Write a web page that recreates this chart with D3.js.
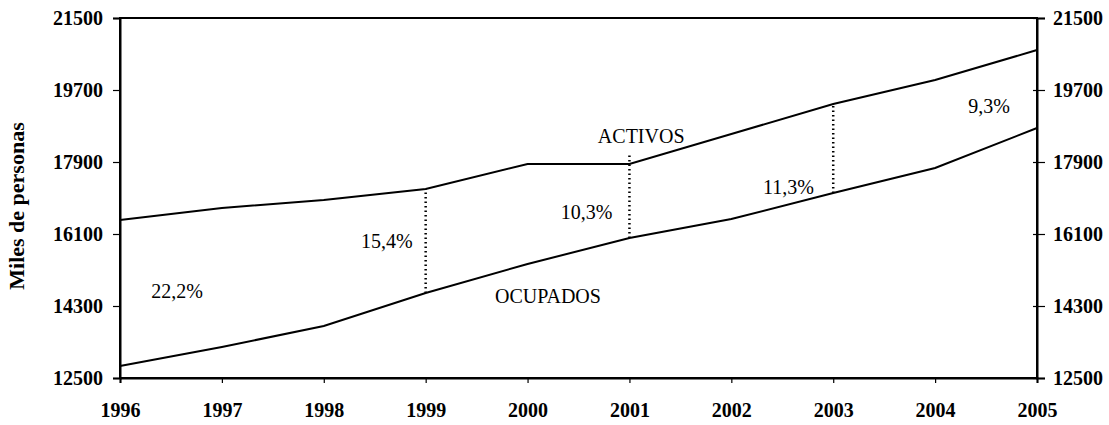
<!DOCTYPE html>
<html>
<head>
<meta charset="utf-8">
<script src="https://cdn.jsdelivr.net/npm/d3@7"></script>
<style>
  body { margin: 0; background: #fff; }
  svg { display: block; }
</style>
</head>
<body>
<div id="chart"></div>
<script>
const years = [1996, 1997, 1998, 1999, 2000, 2001, 2002, 2003, 2004, 2005];
const activos = [16450, 16750, 16950, 17225, 17850, 17850, 18600, 19350, 19950, 20700];
const ocupados = [12800, 13275, 13800, 14625, 15350, 16000, 16475, 17125, 17750, 18750];
const yTicks = [12500, 14300, 16100, 17900, 19700, 21500];
const gapYears = [1999, 2001, 2003];
const gapTop = [17225, 18075, 19350];
const pctLabels = ["22,2%", "15,4%", "10,3%", "11,3%", "9,3%"];
const pctYears = [1996.56, 1998.62, 2000.58, 2002.56, 2004.53];
const pctValues = [14500, 15750, 16475, 17100, 19125];

const W = 1109, H = 425;
const margin = { top: 18, right: 72, bottom: 47, left: 120 };
const width = W - margin.left - margin.right;
const height = H - margin.top - margin.bottom;

const svg = d3.select("#chart").append("svg")
    .attr("width", W)
    .attr("height", H)
    .append("g")
    .attr("transform", `translate(${margin.left},${margin.top})`);

const x = d3.scaleLinear().domain([1996, 2005]).range([0, width]);
const y = d3.scaleLinear().domain([12500, 21500]).range([height, 0]);

const serif = "'Liberation Serif', 'Times New Roman', serif";

// Frame
svg.append("rect")
    .attr("width", width)
    .attr("height", height)
    .attr("fill", "none")
    .attr("stroke", "#000")
    .attr("stroke-width", 2);

// Axes
const axL = svg.append("g")
    .call(d3.axisLeft(y).tickValues(yTicks).tickSize(7).tickPadding(10).tickFormat(d3.format("d")));
const axR = svg.append("g")
    .attr("transform", `translate(${width},0)`)
    .call(d3.axisRight(y).tickValues(yTicks).tickSize(8).tickPadding(8).tickFormat(d3.format("d")));
axR.selectAll(".tick line").attr("x1", -4);
const axB = svg.append("g")
    .attr("transform", `translate(0,${height})`)
    .call(d3.axisBottom(x).tickValues(years).tickSize(5).tickPadding(20).tickFormat(d3.format("d")));

[axL, axR, axB].forEach(a => {
    a.attr("font-family", serif);
    a.select(".domain").attr("stroke-width", 2);
    a.selectAll(".tick line").attr("stroke-width", 1.2);
    a.selectAll("text")
        .style("font-family", serif)
        .style("font-weight", "bold")
        .style("font-size", "20px")
        .attr("fill", "#000");
});

// Axis title
svg.append("text")
    .attr("transform", `translate(-96,${height / 2 + 8}) rotate(-90)`)
    .attr("text-anchor", "middle")
    .style("font-family", serif)
    .style("font-weight", "bold")
    .style("font-size", "22px")
    .text("Miles de personas");

// Lines
const line = d3.line().x((d, i) => x(years[i])).y(d => y(d));
svg.append("path").datum(activos)
    .attr("fill", "none").attr("stroke", "#000").attr("stroke-width", 2)
    .attr("d", line);
svg.append("path").datum(ocupados)
    .attr("fill", "none").attr("stroke", "#000").attr("stroke-width", 2)
    .attr("d", line);

// Dotted gap lines
svg.selectAll(".gap")
    .data(gapYears)
    .enter().append("line")
    .attr("x1", d => x(d)).attr("x2", d => x(d))
    .attr("y1", d => y(ocupados[years.indexOf(d)]))
    .attr("y2", (d, i) => y(gapTop[i]))
    .attr("stroke", "#000")
    .attr("stroke-width", 2.5)
    .attr("stroke-dasharray", "1.5 3");

// Series labels
svg.append("text")
    .attr("x", x(2000.69)).attr("y", y(18375))
    .style("font-family", serif).style("font-size", "20px")
    .text("ACTIVOS");
svg.append("text")
    .attr("x", x(1999.68)).attr("y", y(14375))
    .style("font-family", serif).style("font-size", "20px")
    .text("OCUPADOS");

// Percent labels
svg.selectAll(".pct")
    .data(pctLabels)
    .enter().append("text")
    .attr("x", (d, i) => x(pctYears[i]))
    .attr("y", (d, i) => y(pctValues[i]))
    .attr("text-anchor", "middle")
    .style("font-family", serif)
    .style("font-size", "20px")
    .text(d => d);
</script>
</body>
</html>
